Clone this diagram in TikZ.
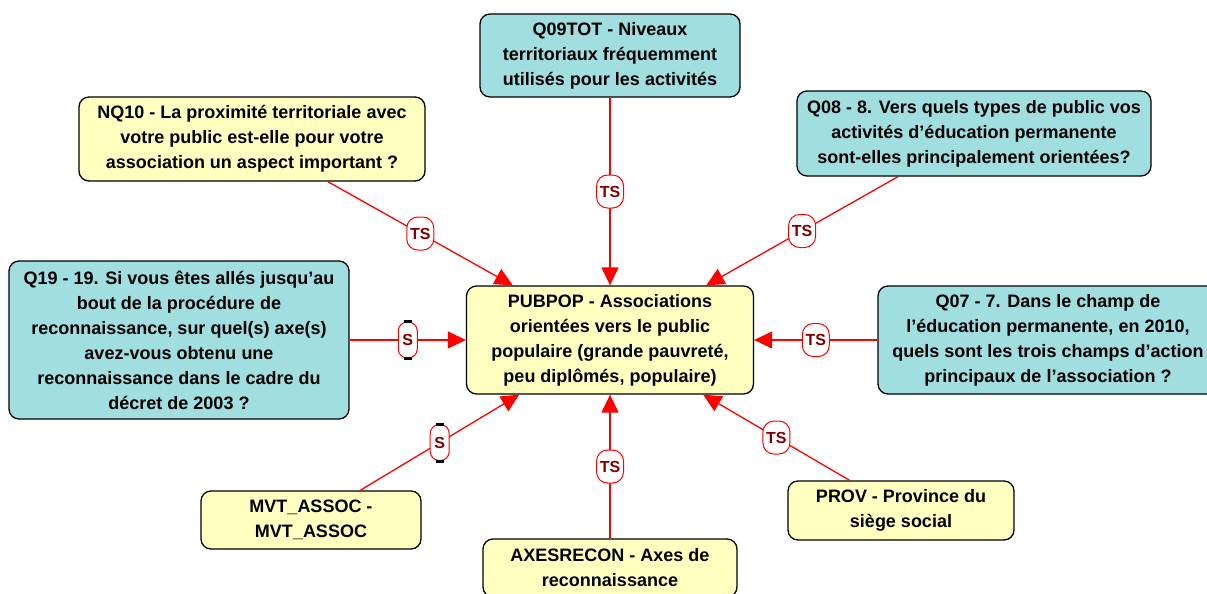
\documentclass[tikz,border=0pt]{standalone}
\usepackage{fontspec}
\setmainfont{Liberation Sans}
\usetikzlibrary{positioning}
\usetikzlibrary{arrows.meta}
\definecolor{qteal}{HTML}{A0DEE0}
\definecolor{vyellow}{HTML}{FFFFC0}
\definecolor{tagred}{HTML}{800000}

\begin{document}
\begin{tikzpicture}[
    x=1pt, y=1pt,
    node distance=100pt, on grid,
    box/.style={draw, rounded corners=10pt, line width=1.3pt, align=center, inner sep=4pt, font=\fontsize{18}{25}\selectfont\bfseries},
    qbox/.style={box, fill=qteal},
    varbox/.style={box, fill=vyellow},
    link/.style={-{Triangle[length=18pt,width=17pt]}, red, line width=1.3pt},
    tstag/.style={draw, fill=white, rounded corners=11pt, minimum width=27pt, minimum height=33pt, inner sep=0pt, line width=1pt, text=tagred, font=\fontsize{16}{16}\selectfont\bfseries},
    stag/.style={tstag, minimum width=19pt, minimum height=36pt, rounded corners=9pt}
]
\useasboundingbox (0,0) rectangle (1207,-594);

% Central variable
\node[varbox, minimum width=287pt, minimum height=108pt] (pubpop) at (610,-340) {PUBPOP - Associations\\orientées vers le public\\populaire (grande pauvreté,\\peu diplômés, populaire)};

% Questions and variables around it
\node[qbox, minimum width=260pt, minimum height=83pt] (q09tot) [above=284.5pt of pubpop] {Q09TOT - Niveaux\\territoriaux fréquemment\\utilisés pour les activités};
\node[varbox, minimum width=346pt, minimum height=84pt] (nq10) [above left=201pt and 358pt of pubpop] {NQ10 - La proximité territoriale avec\\votre public est-elle pour votre\\association un aspect important ?};
\node[qbox, minimum width=354pt, minimum height=85pt] (q08) [above right=206.5pt and 364pt of pubpop] {Q08 - 8. Vers quels types de public vos\\activités d'éducation permanente\\sont-elles principalement orientées?};
\node[qbox, minimum width=340pt, minimum height=158pt] (q19) [left=431pt of pubpop] {Q19 - 19. Si vous êtes allés jusqu'au\\bout de la procédure de\\reconnaissance, sur quel(s) axe(s)\\avez-vous obtenu une\\reconnaissance dans le cadre du\\décret de 2003 ?};
\node[qbox, minimum width=340pt, minimum height=108pt] (q07) [right=438pt of pubpop] {Q07 - 7. Dans le champ de\\l'éducation permanente, en 2010,\\quels sont les trois champs d'action\\principaux de l'association ?};
\node[varbox, minimum width=220pt, minimum height=58pt] (mvtassoc) [below left=180pt and 299pt of pubpop] {MVT\_ASSOC -\\MVT\_ASSOC};
\node[varbox, minimum width=254pt, minimum height=58pt] (axesrecon) [below=228pt of pubpop] {AXESRECON - Axes de\\reconnaissance};
\node[varbox, minimum width=226pt, minimum height=59pt] (prov) [below right=170.5pt and 291pt of pubpop] {PROV - Province du\\siège social};

% Links
\draw[link] (q09tot) -- node[tstag] {TS} (pubpop);
\draw[link] (nq10) -- node[tstag] {TS} (pubpop);
\draw[link] (q08) -- node[tstag] {TS} (pubpop);
\draw[link] (q19) -- node[stag] (sq19) {S} (pubpop);
\draw[link] (q07) -- node[tstag] {TS} (pubpop);
\draw[link] (mvtassoc) -- node[stag] (smvt) {S} (pubpop);
\draw[link] (axesrecon) -- node[tstag] {TS} (pubpop);
\draw[link] (prov) -- node[tstag] {TS} (pubpop);

% caps on the S tags
\foreach \s in {sq19, smvt} {
  \draw[line width=3pt] ([xshift=-4pt]\s.north) -- ([xshift=4pt]\s.north);
  \draw[line width=3pt] ([xshift=-4pt]\s.south) -- ([xshift=4pt]\s.south);
}

\end{tikzpicture}
\end{document}
